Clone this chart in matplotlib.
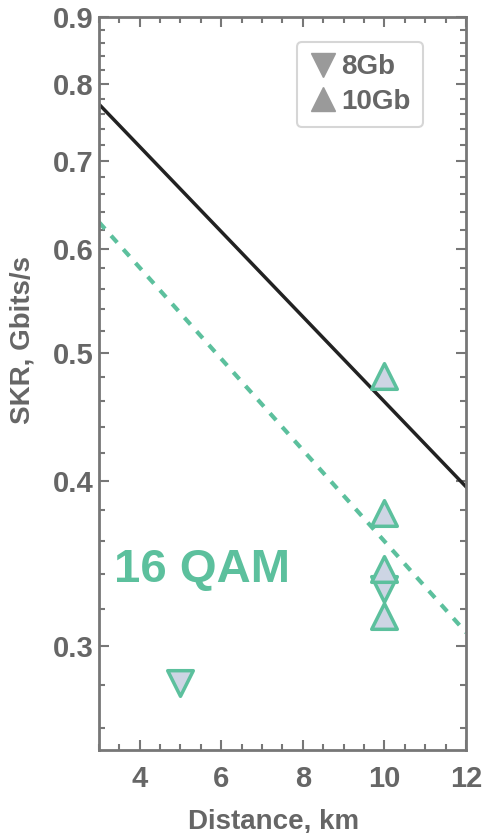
import numpy as np
import matplotlib
matplotlib.use("Agg")
from matplotlib import pyplot as plt
from matplotlib.lines import Line2D
from matplotlib.ticker import FixedLocator, NullFormatter

# data
fit_x = [3, 12]
fit_black = [0.773, 0.396]
fit_teal = [0.629, 0.307]

x_8gb = [5, 10]
y_8gb = [0.281, 0.331]
x_10gb = [10, 10, 10, 10]
y_10gb = [0.481, 0.378, 0.343, 0.316]

yticks = [0.3, 0.4, 0.5, 0.6, 0.7, 0.8, 0.9]
yminor = [0.26, 0.28, 0.32, 0.34, 0.36, 0.38, 0.42, 0.44, 0.46, 0.48,
          0.52, 0.54, 0.56, 0.58, 0.62, 0.64, 0.66, 0.68, 0.72, 0.74,
          0.76, 0.78, 0.82, 0.84, 0.86, 0.88]
xticks = [4, 6, 8, 10, 12]

teal = "#5cc09d"
face = "#cdd5e4"
grey = "#666666"

plt.rcParams['font.family'] = ['Liberation Sans', 'DejaVu Sans']
plt.rcParams['font.weight'] = 'bold'

fig = plt.figure(figsize=(4.87, 8.33), dpi=100)
ax = fig.add_axes([0.203, 0.0996, 0.754, 0.88])

ax.plot(fit_x, fit_black, color="#222222", linewidth=2.5)
ax.plot(fit_x, fit_teal, color=teal, linewidth=3, linestyle=(0, (2.2, 2.2)))

ax.scatter(x_8gb, y_8gb, marker="v", s=340, facecolor=face, edgecolor=teal,
           linewidth=2.5, zorder=3)
ax.scatter(x_10gb, y_10gb, marker="^", s=340, facecolor=face, edgecolor=teal,
           linewidth=2.5, zorder=3)

ax.text(3.38, 0.3426, "16 QAM", color=teal, fontsize=34, fontweight="bold",
        va="center", ha="left")

ax.set_yscale("log")
ax.set_xlim(3, 12)
ax.set_ylim(0.25, 0.9)
ax.yaxis.set_major_locator(FixedLocator(yticks))
ax.yaxis.set_minor_locator(FixedLocator(yminor))
ax.yaxis.set_minor_formatter(NullFormatter())
ax.set_yticklabels([str(v) for v in yticks])
ax.set_xticks(xticks)
ax.xaxis.set_minor_locator(FixedLocator(np.arange(3, 12.01, 0.5)))

for s in ax.spines.values():
    s.set_color("#777777")
    s.set_linewidth(2)
ax.tick_params(which="both", direction="in", top=True, right=True,
               colors="#777777", labelcolor=grey, labelsize=21, width=1.5)
ax.tick_params(which="major", length=7)
ax.tick_params(which="minor", length=4)
ax.tick_params(axis="y", which="major", pad=4)
ax.tick_params(axis="x", which="major", pad=11)

ax.set_xlabel("Distance, km", color=grey, fontsize=20, fontweight="bold",
              va="center", ha="center")
ax.set_ylabel("SKR, Gbits/s", color=grey, fontsize=20, fontweight="bold",
              va="center", ha="center")
ax.xaxis.set_label_coords(0.477, -0.097)
ax.yaxis.set_label_coords(-0.207, 0.559)

handles = [Line2D([], [], marker="v", linestyle="none", color="#9a9a9a", markersize=17),
           Line2D([], [], marker="^", linestyle="none", color="#9a9a9a", markersize=17)]
leg = ax.legend(handles, ["8Gb", "10Gb"], loc="upper right",
                bbox_to_anchor=(0.883, 0.966), borderaxespad=0, frameon=True,
                fancybox=True, fontsize=20, handletextpad=0.15, handlelength=1.0,
                borderpad=0.45, labelspacing=0.3, labelcolor=grey)
leg.get_frame().set_edgecolor("#cccccc")
leg.get_frame().set_linewidth(1.5)
for t in leg.get_texts():
    t.set_fontweight("bold")

fig.savefig("out.png", dpi=100)
